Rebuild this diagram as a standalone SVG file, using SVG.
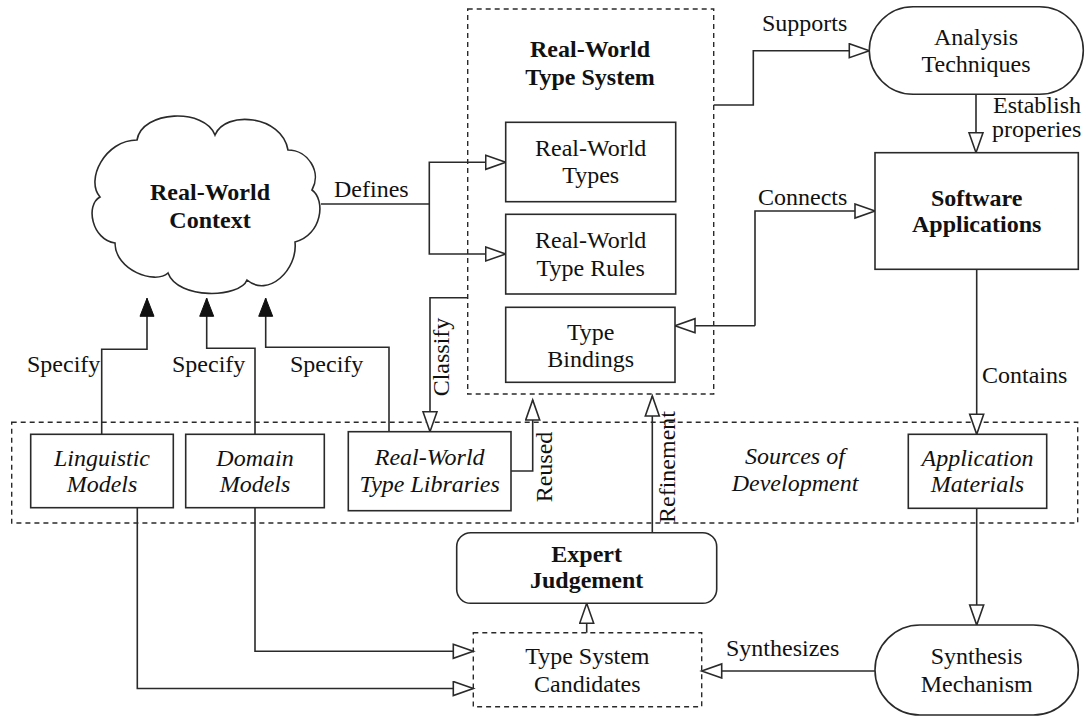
<svg xmlns="http://www.w3.org/2000/svg" width="1088" height="717" viewBox="0 0 1088 717" font-family="'Liberation Serif', 'DejaVu Serif', 'Times New Roman', serif">
  <style>
    .box { fill: #fff; stroke: #2a2a2a; stroke-width: 1.6; }
    .dash { fill: none; stroke: #2a2a2a; stroke-width: 1.4; stroke-dasharray: 5 4; }
    .wire { fill: none; stroke: #2a2a2a; stroke-width: 1.6; }
    text { font-family: "Liberation Serif", "DejaVu Serif", "Times New Roman", serif; font-size: 24px; fill: #111; }
    .c { text-anchor: middle; }
    .b { font-weight: bold; }
    .i { font-style: italic; }
  </style>
  <defs>
    <marker id="hollow" markerUnits="userSpaceOnUse" markerWidth="24" markerHeight="18" refX="21" refY="8" orient="auto">
      <path d="M1,1 L21,8 L1,15 Z" fill="#fff" stroke="#2a2a2a" stroke-width="1.6"/>
    </marker>
    <marker id="solid" markerUnits="userSpaceOnUse" markerWidth="22" markerHeight="18" refX="19" refY="8" orient="auto">
      <path d="M1,1 L19,8 L1,15 Z" fill="#111" stroke="#111" stroke-width="1"/>
    </marker>
  </defs>

  <rect width="1088" height="717" fill="#fff"/>

  <!-- container outlines -->
  <g id="type-system">
    <rect class="dash" x="467.7" y="9" width="246" height="385"/>
    <text class="c b" x="590" y="57">Real-World</text>
    <text class="c b" x="590" y="85">Type System</text>
  </g>
  <g id="sources">
    <rect class="dash" x="11.7" y="422.3" width="1066" height="100.7"/>
    <text class="c i" x="795" y="464">Sources of</text>
    <text class="c i" x="795" y="491">Development</text>
  </g>

  <!-- connectors -->
  <g id="connectors">
    <!-- Defines -->
    <path class="wire" d="M321,204 H429.3"/>
    <path class="wire" d="M429.3,204 V162.3 H505.7" marker-end="url(#hollow)"/>
    <path class="wire" d="M429.3,204 V254 H505.7" marker-end="url(#hollow)"/>
    <text x="334" y="197">Defines</text>

    <!-- Specify -->
    <path class="wire" d="M101.7,434.3 V349.3 H147 V298.3" marker-end="url(#solid)"/>
    <path class="wire" d="M255,434.3 V348.3 H206.7 V298.3" marker-end="url(#solid)"/>
    <path class="wire" d="M389,431.7 V347.3 H265.7 V298.3" marker-end="url(#solid)"/>
    <text x="27" y="372">Specify</text>
    <text x="172" y="372">Specify</text>
    <text x="290" y="372">Specify</text>

    <!-- Classify -->
    <path class="wire" d="M467.7,297.7 H430 V431.7" marker-end="url(#hollow)"/>
    <text class="c" transform="translate(449,357) rotate(-90)">Classify</text>

    <!-- Reused -->
    <path class="wire" d="M511,471 H532.7 V400" marker-end="url(#hollow)"/>
    <text class="c" transform="translate(551.5,467) rotate(-90)">Reused</text>

    <!-- Refinement -->
    <path class="wire" d="M652.3,532.7 V396" marker-end="url(#hollow)"/>
    <text class="c" transform="translate(675,467) rotate(-90)">Refinement</text>

    <!-- Supports -->
    <path class="wire" d="M713.7,105 H753.3 V50.7 H869.3" marker-end="url(#hollow)"/>
    <text x="762" y="31">Supports</text>

    <!-- Connects (both ends) -->
    <path class="wire" d="M755,325.7 V211 H875" marker-end="url(#hollow)"/>
    <path class="wire" d="M755,325.7 H675" marker-end="url(#hollow)"/>
    <text x="758" y="205">Connects</text>

    <!-- Establish properies -->
    <path class="wire" d="M976,94.3 V152.7" marker-end="url(#hollow)"/>
    <text x="993" y="113">Establish</text>
    <text x="992" y="137">properies</text>

    <!-- Contains -->
    <path class="wire" d="M976.7,269.3 V434.3" marker-end="url(#hollow)"/>
    <text x="982" y="383">Contains</text>

    <!-- Application Materials to Synthesis Mechanism -->
    <path class="wire" d="M976.7,508.3 V625" marker-end="url(#hollow)"/>

    <!-- Synthesizes -->
    <path class="wire" d="M875,671 H701.7" marker-end="url(#hollow)"/>
    <text x="726" y="656">Synthesizes</text>

    <!-- models to candidates -->
    <path class="wire" d="M255,507.7 V651.3 H473.3" marker-end="url(#hollow)"/>
    <path class="wire" d="M137.3,507.7 V688.5 H473.3" marker-end="url(#hollow)"/>

    <!-- candidates to expert judgement -->
    <path class="wire" d="M586.7,632.7 V603.3" marker-end="url(#hollow)"/>
  </g>

  <!-- nodes -->
  <g id="context">
    <path class="box" d="M137,140 C142,110 205,108 215,135 C225,110 282,115 288,150 C308,150 322,172 312,190 C326,200 322,235 295,242 C298,270 268,298 247,280 C240,298 178,300 168,273 C155,285 115,270 115,243 C92,240 85,205 100,197 C85,180 105,140 137,140 Z"/>
    <text class="c b" x="210" y="200">Real-World</text>
    <text class="c b" x="210" y="228">Context</text>
  </g>

  <g id="rw-types">
    <rect class="box" x="505.7" y="122.3" width="170" height="79.4"/>
    <text class="c" x="590.7" y="156">Real-World</text>
    <text class="c" x="590.7" y="183">Types</text>
  </g>
  <g id="rw-type-rules">
    <rect class="box" x="505.7" y="214.3" width="170" height="79.7"/>
    <text class="c" x="590.7" y="248">Real-World</text>
    <text class="c" x="590.7" y="276">Type Rules</text>
  </g>
  <g id="type-bindings">
    <rect class="box" x="505.7" y="307.3" width="169.3" height="75"/>
    <text class="c" x="590.7" y="340">Type</text>
    <text class="c" x="590.7" y="367">Bindings</text>
  </g>

  <g id="analysis-techniques">
    <rect class="box" x="869.3" y="6.7" width="214" height="87.6" rx="43.8"/>
    <text class="c" x="976" y="45">Analysis</text>
    <text class="c" x="976" y="72">Techniques</text>
  </g>
  <g id="software-applications">
    <rect class="box" x="875" y="152.7" width="203.3" height="116.6"/>
    <text class="c b" x="976.7" y="206">Software</text>
    <text class="c b" x="976.7" y="232">Applications</text>
  </g>

  <g id="linguistic-models">
    <rect class="box" x="30.7" y="434.3" width="142.6" height="73.4"/>
    <text class="c i" x="102" y="466">Linguistic</text>
    <text class="c i" x="102" y="492">Models</text>
  </g>
  <g id="domain-models">
    <rect class="box" x="185.7" y="434.3" width="138.6" height="73.4"/>
    <text class="c i" x="255" y="466">Domain</text>
    <text class="c i" x="255" y="492">Models</text>
  </g>
  <g id="type-libraries">
    <rect class="box" x="348.3" y="431.7" width="162.7" height="79"/>
    <text class="c i" x="429.7" y="465">Real-World</text>
    <text class="c i" x="429.7" y="492">Type Libraries</text>
  </g>
  <g id="application-materials">
    <rect class="box" x="908.3" y="434.3" width="138.4" height="74"/>
    <text class="c i" x="977.5" y="466">Application</text>
    <text class="c i" x="977.5" y="492">Materials</text>
  </g>

  <g id="expert-judgement">
    <rect class="box" x="456.7" y="532.7" width="260" height="70.6" rx="14"/>
    <text class="c b" x="586.7" y="562">Expert</text>
    <text class="c b" x="586.7" y="588">Judgement</text>
  </g>
  <g id="type-system-candidates">
    <rect class="dash" x="473.3" y="632.7" width="228.4" height="74"/>
    <text class="c" x="587.3" y="664">Type System</text>
    <text class="c" x="587.3" y="692">Candidates</text>
  </g>
  <g id="synthesis-mechanism">
    <rect class="box" x="875" y="625" width="203.3" height="90" rx="45"/>
    <text class="c" x="976.7" y="664">Synthesis</text>
    <text class="c" x="976.7" y="692">Mechanism</text>
  </g>
</svg>
